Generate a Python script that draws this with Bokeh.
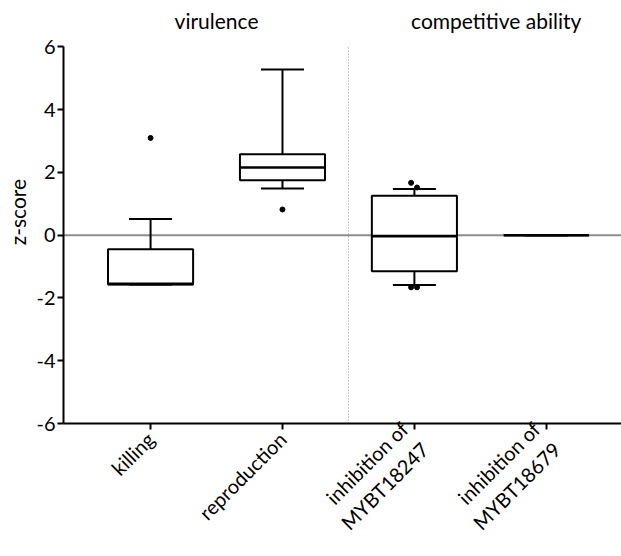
import math
from bokeh.plotting import figure
from bokeh.models import Range1d, FixedTicker, Span, ColumnDataSource
from bokeh.core.properties import value
from bokeh.embed import file_html
from bokeh.resources import INLINE

# ---- data ----
categories = ["killing", "reproduction", "inhibition of\nMYBT18247", "inhibition of\nMYBT18679"]
q1 = [-1.57, 1.75, -1.15, 0.0]
median = [-1.55, 2.16, -0.03, 0.0]
q3 = [-0.45, 2.58, 1.26, 0.0]
whisker_low = [-1.57, 1.49, -1.59, 0.0]
whisker_high = [0.52, 5.28, 1.47, 0.0]
outlier_cat = [0, 1, 2, 2, 2, 2]
outlier_val = [3.10, 0.82, 1.67, 1.52, -1.66, -1.66]
outlier_jitter = [0.0, 0.0, -0.025, 0.02, -0.025, 0.02]
group_labels = ["virulence", "competitive ability"]
group_centers = [0.5, 2.62]
y_ticks = [-6, -4, -2, 0, 2, 4, 6]

FONT = "Lato"
xs = list(range(len(categories)))
BOX_W = 0.645
CAP_W = 0.326

p = figure(width=621, height=556, output_backend="svg", toolbar_location=None,
           x_range=Range1d(-0.66, 3.57), y_range=Range1d(-6, 7.48),
           min_border_left=63, min_border_right=0, min_border_top=0, min_border_bottom=131)
p.outline_line_color = None
p.xgrid.visible = False
p.ygrid.visible = False
p.background_fill_color = "white"

# zero reference line (beneath the boxes)
p.add_layout(Span(location=0, dimension="width", line_color="#8c8c8c", line_width=2, level="underlay"))
# dotted separator between the two groups
p.segment(x0=[1.5], y0=[-6], x1=[1.5], y1=[6], line_color="#8a8a8a", line_width=1, line_dash="1 2")

src = ColumnDataSource(dict(
    x=xs, q1=q1, q3=q3, med=median, lo=whisker_low, hi=whisker_high,
    left=[x - BOX_W / 2 for x in xs], right=[x + BOX_W / 2 for x in xs],
    cl=[x - CAP_W / 2 for x in xs], cr=[x + CAP_W / 2 for x in xs],
))

# whiskers
p.segment(x0="x", y0="q3", x1="x", y1="hi", source=src, line_color="black", line_width=2)
p.segment(x0="x", y0="q1", x1="x", y1="lo", source=src, line_color="black", line_width=2)
# caps
p.segment(x0="cl", y0="hi", x1="cr", y1="hi", source=src, line_color="black", line_width=2)
p.segment(x0="cl", y0="lo", x1="cr", y1="lo", source=src, line_color="black", line_width=2)
# boxes
p.quad(left="left", right="right", bottom="q1", top="q3", source=src,
       fill_color="white", line_color="black", line_width=2)
# medians
p.segment(x0="left", y0="med", x1="right", y1="med", source=src, line_color="black", line_width=2.6)
# outliers
p.scatter(x=[c + j for c, j in zip(outlier_cat, outlier_jitter)], y=outlier_val,
          size=5, color="black")

# group headers
p.text(x=group_centers, y=[6.84, 6.84], text=group_labels, text_align="center",
       text_baseline="middle", text_font=value(FONT), text_font_size="21px", text_color="black")

# axes
for ax in (p.xaxis[0], p.yaxis[0]):
    ax.axis_line_width = 2
    ax.axis_line_color = "black"
    ax.major_tick_line_width = 2
    ax.major_tick_line_color = "black"
    ax.major_tick_in = 0
    ax.major_tick_out = 6
    ax.minor_tick_line_color = None
    ax.major_label_text_font = FONT
    ax.major_label_text_font_size = "20px"
    ax.major_label_text_color = "black"

p.yaxis.bounds = (-6, 6)
p.yaxis.ticker = FixedTicker(ticks=y_ticks)
p.yaxis.major_label_overrides = {t: str(t) for t in y_ticks}
p.yaxis.major_label_standoff = 2
p.yaxis.axis_label = "z-score"
p.yaxis.axis_label_text_font = FONT
p.yaxis.axis_label_text_font_size = "21px"
p.yaxis.axis_label_text_font_style = "normal"
p.yaxis.axis_label_text_color = "black"
p.yaxis.axis_label_standoff = 3

p.xaxis.ticker = FixedTicker(ticks=xs)
p.xaxis.major_label_overrides = {i: c for i, c in enumerate(categories)}
p.xaxis.major_label_orientation = math.pi / 4
p.xaxis.major_label_standoff = 6

open("out.html", "w").write(file_html(p, INLINE))
